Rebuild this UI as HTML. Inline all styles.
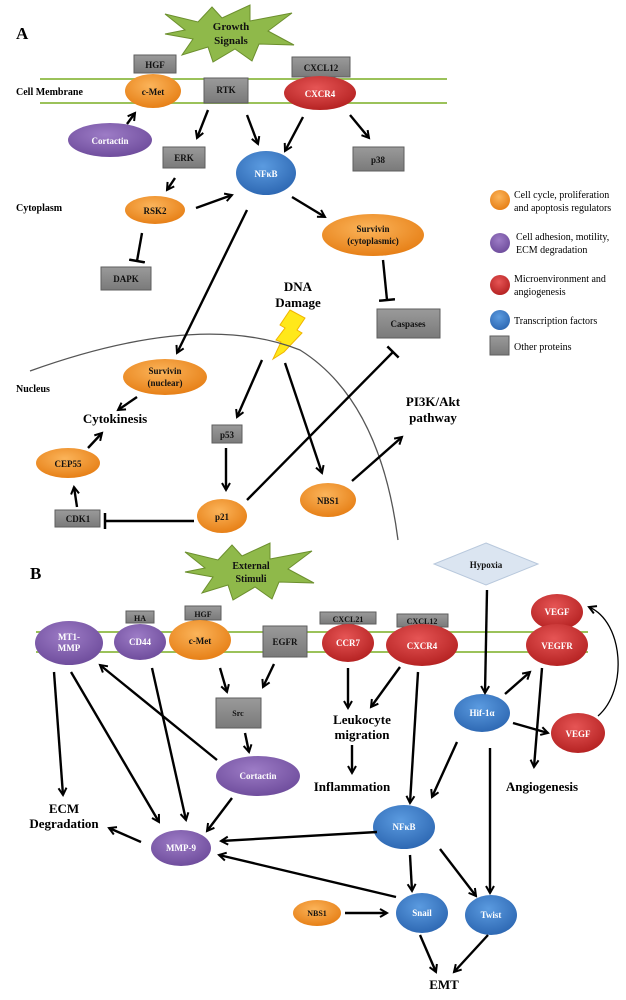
<!DOCTYPE html>
<html><head><meta charset="utf-8"><style>
html,body{margin:0;padding:0;background:#fff;}
svg{display:block;font-family:"Liberation Serif",serif;font-weight:bold;}
</style></head><body>
<svg width="626" height="1000" viewBox="0 0 626 1000" xmlns="http://www.w3.org/2000/svg">
<defs>
<radialGradient id="go" cx="45%" cy="35%" r="70%"><stop offset="0" stop-color="#fbb45a"/><stop offset="1" stop-color="#e57c12"/></radialGradient>
<radialGradient id="gp" cx="45%" cy="35%" r="70%"><stop offset="0" stop-color="#9d7cc6"/><stop offset="1" stop-color="#6c4a9a"/></radialGradient>
<radialGradient id="gr" cx="45%" cy="35%" r="70%"><stop offset="0" stop-color="#e65555"/><stop offset="1" stop-color="#b21f1f"/></radialGradient>
<radialGradient id="gb" cx="45%" cy="35%" r="70%"><stop offset="0" stop-color="#5b9be0"/><stop offset="1" stop-color="#2b65b0"/></radialGradient>
<linearGradient id="gg" x1="0" y1="0" x2="0" y2="1"><stop offset="0" stop-color="#9a9a9a"/><stop offset="1" stop-color="#7a7a7a"/></linearGradient>
<marker id="a" markerWidth="10" markerHeight="10" refX="8" refY="5" orient="auto" markerUnits="userSpaceOnUse"><path d="M1,1 L8,5 L1,9" fill="none" stroke="#000" stroke-width="2"/></marker>
<marker id="t" markerWidth="4" markerHeight="16" refX="2" refY="8" orient="auto" markerUnits="userSpaceOnUse"><path d="M2,0 L2,16" stroke="#000" stroke-width="2.5"/></marker>
</defs>
<style>
.b{fill:url(#gg);stroke:#5e5e5e;stroke-width:1}
.l{stroke:#000;stroke-width:2.4;fill:none}
.w{fill:#fff;font-size:9px;text-anchor:middle}
.k{fill:#111;font-size:10px;text-anchor:middle}
.bt{fill:#000;font-size:13px;text-anchor:middle}
.lab{fill:#000;font-size:10px}
.leg{fill:#000;font-size:10px;font-weight:normal}
</style>

<!-- ===== PANEL A ===== -->
<text x="16" y="39" style="font-size:17px">A</text>
<polygon points="165,14 198,22 212,7 222,18 250,5 250,21 292,13 268,31 294,45 259,44 252,61 235,49 213,62 208,47 182,55 193,39 165,34 185,30" fill="#8fb94a" stroke="#6c8f2e" stroke-width="1"/>
<text x="231" y="30" class="k" style="font-size:11px">Growth</text>
<text x="231" y="44" class="k" style="font-size:11px">Signals</text>

<line x1="40" y1="79" x2="447" y2="79" stroke="#9bc25a" stroke-width="2"/>
<line x1="40" y1="103" x2="447" y2="103" stroke="#9bc25a" stroke-width="2"/>
<text x="16" y="95" class="lab">Cell Membrane</text>
<text x="16" y="211" class="lab">Cytoplasm</text>
<text x="16" y="392" class="lab">Nucleus</text>

<rect x="134" y="55" width="42" height="18" class="b"/><text x="155" y="68" class="k" style="font-size:9px">HGF</text>
<ellipse cx="153" cy="91" rx="28" ry="17" fill="url(#go)"/><text x="153" y="95" class="k" style="font-size:9px">c-Met</text>
<rect x="204" y="78" width="44" height="25" class="b"/><text x="226" y="93" class="k" style="font-size:9px">RTK</text>
<rect x="292" y="57" width="58" height="20" class="b"/><text x="321" y="71" class="k" style="font-size:9px">CXCL12</text>
<ellipse cx="320" cy="93" rx="36" ry="17" fill="url(#gr)"/><text x="320" y="97" class="w">CXCR4</text>
<ellipse cx="110" cy="140" rx="42" ry="17" fill="url(#gp)"/><text x="110" y="144" class="w">Cortactin</text>
<rect x="163" y="147" width="42" height="21" class="b"/><text x="184" y="161" class="k" style="font-size:9px">ERK</text>
<ellipse cx="266" cy="173" rx="30" ry="22" fill="url(#gb)"/><text x="266" y="177" class="w">NFκB</text>
<rect x="353" y="147" width="51" height="24" class="b"/><text x="378" y="163" class="k" style="font-size:9px">p38</text>
<ellipse cx="155" cy="210" rx="30" ry="14" fill="url(#go)"/><text x="155" y="214" class="k" style="font-size:9px">RSK2</text>
<ellipse cx="373" cy="235" rx="51" ry="21" fill="url(#go)"/><text x="373" y="232" class="k" style="font-size:9px">Survivin</text><text x="373" y="244" class="k" style="font-size:9px">(cytoplasmic)</text>
<rect x="101" y="267" width="50" height="23" class="b"/><text x="126" y="282" class="k" style="font-size:9px">DAPK</text>

<text x="298" y="291" class="bt">DNA</text><text x="298" y="307" class="bt">Damage</text>
<polygon points="290,310 305,318 297,330 302,333 284,352 273,359 281,342 276,340 285,328 280,325" fill="#ffe81a" stroke="#f0b400" stroke-width="1"/>
<rect x="377" y="309" width="63" height="29" class="b"/><text x="408" y="327" class="k" style="font-size:9px">Caspases</text>

<path d="M30,371 Q200,310 300,350 Q380,400 398,540" fill="none" stroke="#555" stroke-width="1.3"/>

<ellipse cx="165" cy="377" rx="42" ry="18" fill="url(#go)"/><text x="165" y="374" class="k" style="font-size:9px">Survivin</text><text x="165" y="386" class="k" style="font-size:9px">(nuclear)</text>
<text x="115" y="423" class="bt">Cytokinesis</text>
<rect x="212" y="425" width="30" height="18" class="b"/><text x="227" y="438" class="k" style="font-size:9px">p53</text>
<text x="433" y="406" class="bt">PI3K/Akt</text><text x="433" y="422" class="bt">pathway</text>
<ellipse cx="68" cy="463" rx="32" ry="15" fill="url(#go)"/><text x="68" y="467" class="k" style="font-size:9px">CEP55</text>
<ellipse cx="222" cy="516" rx="25" ry="17" fill="url(#go)"/><text x="222" y="520" class="k" style="font-size:9px">p21</text>
<ellipse cx="328" cy="500" rx="28" ry="17" fill="url(#go)"/><text x="328" y="504" class="k" style="font-size:9px">NBS1</text>
<rect x="55" y="510" width="45" height="17" class="b"/><text x="78" y="522" class="k" style="font-size:9px">CDK1</text>

<!-- A arrows -->
<line x1="127" y1="124" x2="135" y2="113" class="l" marker-end="url(#a)"/>
<line x1="208" y1="110" x2="197" y2="138" class="l" marker-end="url(#a)"/>
<line x1="247" y1="115" x2="258" y2="144" class="l" marker-end="url(#a)"/>
<line x1="303" y1="117" x2="285" y2="151" class="l" marker-end="url(#a)"/>
<line x1="350" y1="115" x2="369" y2="138" class="l" marker-end="url(#a)"/>
<line x1="175" y1="178" x2="167" y2="190" class="l" marker-end="url(#a)"/>
<line x1="196" y1="208" x2="232" y2="195" class="l" marker-end="url(#a)"/>
<line x1="292" y1="197" x2="325" y2="217" class="l" marker-end="url(#a)"/>
<line x1="142" y1="233" x2="137" y2="261" class="l" marker-end="url(#t)"/>
<line x1="247" y1="210" x2="177" y2="353" class="l" marker-end="url(#a)"/>
<line x1="383" y1="260" x2="387" y2="300" class="l" marker-end="url(#t)"/>
<line x1="137" y1="397" x2="118" y2="410" class="l" marker-end="url(#a)"/>
<line x1="88" y1="448" x2="102" y2="433" class="l" marker-end="url(#a)"/>
<line x1="77" y1="507" x2="74" y2="487" class="l" marker-end="url(#a)"/>
<line x1="194" y1="521" x2="105" y2="521" class="l" marker-end="url(#t)"/>
<line x1="262" y1="360" x2="237" y2="417" class="l" marker-end="url(#a)"/>
<line x1="285" y1="363" x2="322" y2="473" class="l" marker-end="url(#a)"/>
<line x1="226" y1="448" x2="226" y2="490" class="l" marker-end="url(#a)"/>
<line x1="247" y1="500" x2="393" y2="352" class="l" marker-end="url(#t)"/>
<line x1="352" y1="481" x2="402" y2="437" class="l" marker-end="url(#a)"/>

<!-- Legend -->
<circle cx="500" cy="200" r="10" fill="url(#go)"/>
<text x="514" y="198" class="leg">Cell cycle, proliferation</text><text x="514" y="211" class="leg">and apoptosis regulators</text>
<circle cx="500" cy="243" r="10" fill="url(#gp)"/>
<text x="516" y="240" class="leg">Cell adhesion, motility,</text><text x="516" y="253" class="leg">ECM degradation</text>
<circle cx="500" cy="285" r="10" fill="url(#gr)"/>
<text x="514" y="282" class="leg">Microenvironment and</text><text x="514" y="295" class="leg">angiogenesis</text>
<circle cx="500" cy="320" r="10" fill="url(#gb)"/>
<text x="514" y="324" class="leg">Transcription factors</text>
<rect x="490" y="336" width="19" height="19" class="b"/>
<text x="514" y="350" class="leg">Other proteins</text>

<!-- ===== PANEL B ===== -->
<text x="30" y="579" style="font-size:17px">B</text>
<polygon points="185,552 218,560 232,545 242,556 270,543 270,559 312,551 288,569 314,583 279,582 272,599 255,587 233,600 228,585 202,593 213,577 185,572 205,568" fill="#8fb94a" stroke="#6c8f2e" stroke-width="1"/>
<text x="251" y="569" class="k" style="font-size:10px">External</text>
<text x="251" y="582" class="k" style="font-size:10px">Stimuli</text>
<polygon points="486,543 538,564 486,585 434,564" fill="#dbe5f1" stroke="#b8c8dc"/>
<text x="486" y="568" class="k" style="font-size:9px">Hypoxia</text>

<line x1="36" y1="632" x2="588" y2="632" stroke="#9bc25a" stroke-width="2"/>
<line x1="36" y1="652" x2="588" y2="652" stroke="#9bc25a" stroke-width="2"/>

<ellipse cx="69" cy="643" rx="34" ry="22" fill="url(#gp)"/><text x="69" y="640" class="w">MT1-</text><text x="69" y="651" class="w">MMP</text>
<rect x="126" y="611" width="28" height="12" class="b"/><text x="140" y="621" class="k" style="font-size:8px">HA</text>
<ellipse cx="140" cy="642" rx="26" ry="18" fill="url(#gp)"/><text x="140" y="645" class="w">CD44</text>
<rect x="185" y="606" width="36" height="14" class="b"/><text x="203" y="617" class="k" style="font-size:8px">HGF</text>
<ellipse cx="200" cy="640" rx="31" ry="20" fill="url(#go)"/><text x="200" y="644" class="k" style="font-size:9px">c-Met</text>
<rect x="263" y="626" width="44" height="31" class="b"/><text x="285" y="645" class="k" style="font-size:9px">EGFR</text>
<rect x="320" y="612" width="56" height="12" class="b"/><text x="348" y="622" class="k" style="font-size:8px">CXCL21</text>
<ellipse cx="348" cy="643" rx="26" ry="19" fill="url(#gr)"/><text x="348" y="646" class="w">CCR7</text>
<rect x="397" y="614" width="51" height="13" class="b"/><text x="422" y="624" class="k" style="font-size:8px">CXCL12</text>
<ellipse cx="422" cy="645" rx="36" ry="21" fill="url(#gr)"/><text x="422" y="649" class="w">CXCR4</text>
<ellipse cx="557" cy="612" rx="26" ry="18" fill="url(#gr)"/><text x="557" y="615" class="w">VEGF</text>
<ellipse cx="557" cy="645" rx="31" ry="21" fill="url(#gr)"/><text x="557" y="649" class="w">VEGFR</text>
<rect x="216" y="698" width="45" height="30" class="b"/><text x="238" y="716" class="k" style="font-size:8px">Src</text>
<ellipse cx="258" cy="776" rx="42" ry="20" fill="url(#gp)"/><text x="258" y="779" class="w">Cortactin</text>
<text x="362" y="724" class="bt">Leukocyte</text><text x="362" y="739" class="bt">migration</text>
<text x="352" y="791" class="bt">Inflammation</text>
<text x="542" y="791" class="bt">Angiogenesis</text>
<ellipse cx="482" cy="713" rx="28" ry="19" fill="url(#gb)"/><text x="482" y="716" class="w">Hif-1α</text>
<ellipse cx="578" cy="733" rx="27" ry="20" fill="url(#gr)"/><text x="578" y="737" class="w">VEGF</text>
<text x="64" y="813" class="bt">ECM</text><text x="64" y="828" class="bt">Degradation</text>
<ellipse cx="181" cy="848" rx="30" ry="18" fill="url(#gp)"/><text x="181" y="851" class="w">MMP-9</text>
<ellipse cx="404" cy="827" rx="31" ry="22" fill="url(#gb)"/><text x="404" y="830" class="w">NFκB</text>
<ellipse cx="317" cy="913" rx="24" ry="13" fill="url(#go)"/><text x="317" y="916" class="k" style="font-size:8px">NBS1</text>
<ellipse cx="422" cy="913" rx="26" ry="20" fill="url(#gb)"/><text x="422" y="916" class="w">Snail</text>
<ellipse cx="491" cy="915" rx="26" ry="20" fill="url(#gb)"/><text x="491" y="918" class="w">Twist</text>
<text x="444" y="989" class="bt">EMT</text>

<!-- B arrows -->
<line x1="54" y1="672" x2="63" y2="795" class="l" marker-end="url(#a)"/>
<line x1="71" y1="672" x2="159" y2="822" class="l" marker-end="url(#a)"/>
<line x1="152" y1="668" x2="186" y2="820" class="l" marker-end="url(#a)"/>
<line x1="217" y1="760" x2="100" y2="665" class="l" marker-end="url(#a)"/>
<line x1="232" y1="798" x2="207" y2="831" class="l" marker-end="url(#a)"/>
<line x1="220" y1="668" x2="227" y2="692" class="l" marker-end="url(#a)"/>
<line x1="274" y1="664" x2="263" y2="687" class="l" marker-end="url(#a)"/>
<line x1="245" y1="733" x2="249" y2="752" class="l" marker-end="url(#a)"/>
<line x1="348" y1="668" x2="348" y2="708" class="l" marker-end="url(#a)"/>
<line x1="400" y1="667" x2="371" y2="707" class="l" marker-end="url(#a)"/>
<line x1="352" y1="745" x2="352" y2="773" class="l" marker-end="url(#a)"/>
<line x1="418" y1="672" x2="410" y2="803" class="l" marker-end="url(#a)"/>
<line x1="487" y1="590" x2="485" y2="693" class="l" marker-end="url(#a)"/>
<line x1="505" y1="694" x2="530" y2="672" class="l" marker-end="url(#a)"/>
<line x1="513" y1="723" x2="548" y2="733" class="l" marker-end="url(#a)"/>
<line x1="542" y1="668" x2="534" y2="767" class="l" marker-end="url(#a)"/>
<path d="M598,716 C628,690 624,622 589,607" fill="none" stroke="#000" stroke-width="1.3" marker-end="url(#a)"/>
<line x1="457" y1="742" x2="432" y2="797" class="l" marker-end="url(#a)"/>
<line x1="490" y1="748" x2="490" y2="893" class="l" marker-end="url(#a)"/>
<line x1="141" y1="842" x2="109" y2="828" class="l" marker-end="url(#a)"/>
<line x1="377" y1="832" x2="221" y2="841" class="l" marker-end="url(#a)"/>
<line x1="396" y1="897" x2="219" y2="855" class="l" marker-end="url(#a)"/>
<line x1="410" y1="855" x2="412" y2="891" class="l" marker-end="url(#a)"/>
<line x1="440" y1="849" x2="476" y2="896" class="l" marker-end="url(#a)"/>
<line x1="345" y1="913" x2="387" y2="913" class="l" marker-end="url(#a)"/>
<line x1="420" y1="935" x2="436" y2="972" class="l" marker-end="url(#a)"/>
<line x1="488" y1="935" x2="454" y2="972" class="l" marker-end="url(#a)"/>
</svg>
</body></html>
